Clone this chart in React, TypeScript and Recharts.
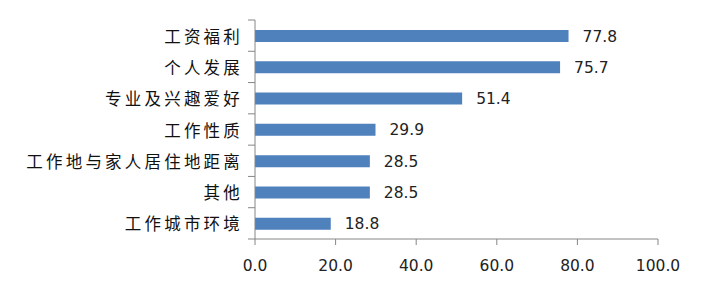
import React from "react";
import { BarChart, Bar, XAxis, YAxis, LabelList } from "recharts";

const categories = [
  "工资福利",
  "个人发展",
  "专业及兴趣爱好",
  "工作性质",
  "工作地与家人居住地距离",
  "其他",
  "工作城市环境",
];
const values = [77.8, 75.7, 51.4, 29.9, 28.5, 28.5, 18.8];
const xTicks = [0, 20, 40, 60, 80, 100];

const AXIS_COLOR = "#868686";
const BAR_COLOR = "#4F81BD";

const data = categories.map((name, i) => ({ name, value: values[i] }));

// category labels plus Excel-style tick marks between bands
const CategoryTick = (props: any) => {
  const { x, y, payload, index } = props;
  const half = payload.offset || 0;
  const lineX = x + 15;
  return (
    <g>
      <text
        x={x + 3}
        y={y}
        textAnchor="end"
        dominantBaseline="central"
        fontFamily="'Noto Sans CJK SC', sans-serif"
        fontSize={16.5}
        letterSpacing={3.2}
        fill="#111"
      >
        {payload.value}
      </text>
      <line x1={lineX - 7} x2={lineX} y1={y - half} y2={y - half} stroke={AXIS_COLOR} />
      {index === categories.length - 1 && (
        <line x1={lineX - 7} x2={lineX} y1={y + half} y2={y + half} stroke={AXIS_COLOR} />
      )}
    </g>
  );
};

export default function App() {
  return (
    <div style={{ position: "absolute", left: 0, top: 0 }}>
      <BarChart
        width={705}
        height={297}
        data={data}
        layout="vertical"
        margin={{ top: 20, right: 47, bottom: 28, left: 0 }}
      >
        <XAxis
          type="number"
          domain={[0, 100]}
          ticks={xTicks}
          interval={0}
          tickFormatter={(v: number) => v.toFixed(1)}
          height={30}
          axisLine={{ stroke: AXIS_COLOR }}
          tickLine={{ stroke: AXIS_COLOR }}
          tickSize={6}
          tickMargin={15}
          tick={{ fill: "#222", fontSize: 15.5, fontFamily: "'DejaVu Sans', Verdana, sans-serif" }}
        />
        <YAxis
          type="category"
          dataKey="name"
          width={255}
          axisLine={{ stroke: AXIS_COLOR }}
          tickLine={false}
          tickSize={0}
          tickMargin={15}
          interval={0}
          tick={<CategoryTick />}
        />
        <Bar dataKey="value" fill={BAR_COLOR} barSize={12} isAnimationActive={false}>
          <LabelList
            dataKey="value"
            position="right"
            offset={14}
            formatter={(v: number) => v.toFixed(1)}
            style={{ fill: "#222", fontSize: 15.5, fontFamily: "'DejaVu Sans', Verdana, sans-serif" }}
          />
        </Bar>
      </BarChart>
    </div>
  );
}
